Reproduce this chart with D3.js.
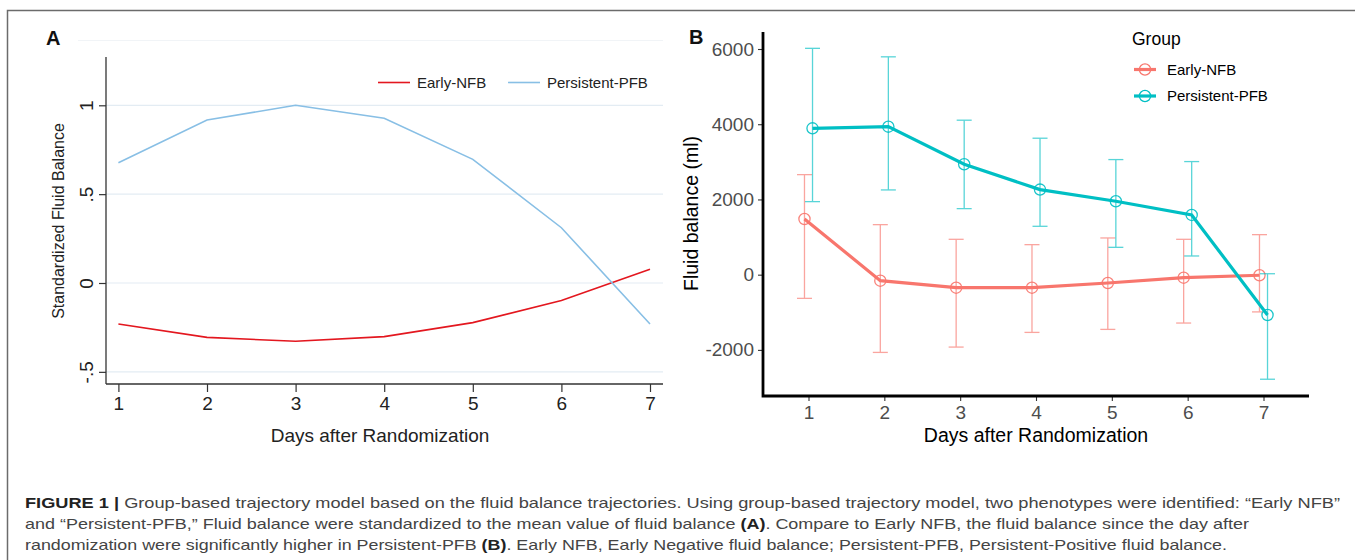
<!DOCTYPE html>
<html><head><meta charset="utf-8">
<script src="https://cdn.jsdelivr.net/npm/d3@7"></script>
<style>
body{margin:0;background:#fff}
svg{display:block}
text{font-family:"Liberation Sans",Arial,Helvetica,sans-serif}
</style>
</head><body>
<svg id="c" width="1355" height="560"></svg>
<script>
// ---------- data ----------
const days = [1, 2, 3, 4, 5, 6, 7];
const groups = ["Early-NFB", "Persistent-PFB"];

// Panel A: standardized fluid balance trajectories
const stdEarly      = [-0.231, -0.306, -0.328, -0.302, -0.223, -0.099, 0.077];
const stdPersistent = [0.677, 0.917, 1.000, 0.927, 0.696, 0.311, -0.231];
const stdTicks      = [-0.5, 0, 0.5, 1];
const stdTickLabels = ["-.5", "0", ".5", "1"];

// Panel B: fluid balance (ml), mean and error bar limits
const fbEarlyMean      = [1481, -160, -346, -346, -222, -80, -15];
const fbEarlyLow       = [-630, -2067, -1925, -1535, -1455, -1286, -990];
const fbEarlyHigh      = [2660, 1330, 940, 798, 976, 940, 1064];
const fbPersistentMean = [3890, 3935, 2936, 2262, 1951, 1588, -1073];
const fbPersistentLow  = [1942, 2253, 1756, 1286, 727, 497, -2780];
const fbPersistentHigh = [6018, 5792, 4107, 3628, 3060, 3007, 25];
const fbTicks          = [-2000, 0, 2000, 4000, 6000];
const fbTickLabels     = ["-2000", "0", "2000", "4000", "6000"];

const captionLines = [
  [["FIGURE 1 | ", true], ["Group-based trajectory model based on the fluid balance trajectories. Using group-based trajectory model, two phenotypes were identified: \u201CEarly NFB\u201D", false]],
  [["and \u201CPersistent-PFB,\u201D Fluid balance were standardized to the mean value of fluid balance ", false], ["(A)", true], [". Compare to Early NFB, the fluid balance since the day after", false]],
  [["randomization were significantly higher in Persistent-PFB ", false], ["(B)", true], [". Early NFB, Early Negative fluid balance; Persistent-PFB, Persistent-Positive fluid balance.", false]]
];

// ---------- drawing ----------
const svg = d3.select("#c");

// figure frame (top and left)
svg.append("path").attr("d", "M7.5,560 V10.5 H1355")
  .attr("fill", "none").attr("stroke", "#6b6b6b").attr("stroke-width", 1.5);

// ===== Panel A =====
const A = {left: 106, right: 663, top: 57, bottom: 384};
const xA = d3.scaleLinear().domain([1, 7]).range([118.4, 650]);
const yA = d3.scaleLinear().domain([0, 1]).range([283, 105.3]);
const redA = "#e3171f", blueA = "#88bfe5";

const gA = svg.append("g");
gA.append("line").attr("x1", 78).attr("x2", A.right).attr("y1", 40.5).attr("y2", 40.5)
  .attr("stroke", "#f1f4f7").attr("stroke-width", 1);

gA.append("text").attr("x", 46).attr("y", 45).attr("font-weight", "bold")
  .attr("font-size", 20).attr("fill", "#111").text("A");

// gridlines
gA.selectAll(".grid").data(stdTicks).join("line")
  .attr("x1", A.left).attr("x2", A.right)
  .attr("y1", d => yA(d)).attr("y2", d => yA(d))
  .attr("stroke", "#e3ecf3").attr("stroke-width", 1.2);

// y axis
const yAxisA = gA.append("g").attr("transform", `translate(${A.left},0)`)
  .call(d3.axisLeft(yA).tickValues(stdTicks).tickSize(7).tickFormat((d, i) => stdTickLabels[i]));
yAxisA.select(".domain").remove();
yAxisA.selectAll(".tick line").attr("stroke", "#333").attr("stroke-width", 1.2);
yAxisA.selectAll(".tick text").attr("x", null).attr("dy", null)
  .attr("transform", "translate(-13,0) rotate(-90)").attr("text-anchor", "middle")
  .attr("font-size", 19).attr("fill", "#222").attr("font-family", "Liberation Sans, Arial, sans-serif");
gA.append("line").attr("x1", A.left).attr("x2", A.left).attr("y1", A.top).attr("y2", A.bottom)
  .attr("stroke", "#333").attr("stroke-width", 1.3);

// x axis
const xAxisA = gA.append("g").attr("transform", `translate(0,${A.bottom})`)
  .call(d3.axisBottom(xA).tickValues(days).tickSize(8).tickFormat(d => String(d)));
xAxisA.select(".domain").remove();
xAxisA.selectAll(".tick line").attr("stroke", "#333").attr("stroke-width", 1.2);
xAxisA.selectAll(".tick text").attr("y", 12).attr("dy", "0.75em")
  .attr("font-size", 19).attr("fill", "#222").attr("font-family", "Liberation Sans, Arial, sans-serif");
gA.append("line").attr("x1", A.left).attr("x2", A.right).attr("y1", A.bottom).attr("y2", A.bottom)
  .attr("stroke", "#333").attr("stroke-width", 1.3);

// titles
gA.append("text").attr("x", 380).attr("y", 442).attr("text-anchor", "middle")
  .attr("font-size", 19).attr("fill", "#222").text("Days after Randomization");
gA.append("text").attr("transform", "translate(63.5,221) rotate(-90)").attr("text-anchor", "middle")
  .attr("font-size", 16).attr("fill", "#222").text("Standardized Fluid Balance");

// lines
const lineA = d3.line().x((d, i) => xA(days[i])).y(d => yA(d));
gA.append("path").datum(stdEarly).attr("d", lineA).attr("fill", "none")
  .attr("stroke", redA).attr("stroke-width", 1.6);
gA.append("path").datum(stdPersistent).attr("d", lineA).attr("fill", "none")
  .attr("stroke", blueA).attr("stroke-width", 1.6);

// legend A
const legA = [{x: 378, color: redA, label: groups[0]}, {x: 508, color: blueA, label: groups[1]}];
legA.forEach(l => {
  gA.append("line").attr("x1", l.x).attr("x2", l.x + 32).attr("y1", 82.5).attr("y2", 82.5)
    .attr("stroke", l.color).attr("stroke-width", 1.6);
  gA.append("text").attr("x", l.x + 39).attr("y", 88).attr("font-size", 15)
    .attr("fill", "#222").text(l.label);
});

// ===== Panel B =====
const B = {left: 763, right: 1309, top: 32, bottom: 396};
const xB = d3.scaleLinear().domain([0.4, 7.6]).range([B.left, B.right]);
const yB = d3.scaleLinear().domain([0, 6000]).range([274.67, 49]);
const colE = "#F8766D", colP = "#00BFC4";
const dodge = 0.053;

const gB = svg.append("g");
gB.append("text").attr("x", 689).attr("y", 44).attr("font-weight", "bold")
  .attr("font-size", 20).attr("fill", "#111").text("B");

const yAxisB = gB.append("g").attr("transform", `translate(${B.left},0)`)
  .call(d3.axisLeft(yB).tickValues(fbTicks).tickSize(5).tickPadding(4).tickFormat((d, i) => fbTickLabels[i]));
yAxisB.select(".domain").remove();
yAxisB.selectAll(".tick line").attr("stroke", "#333").attr("stroke-width", 1.1);
yAxisB.selectAll(".tick text").attr("font-size", 19).attr("fill", "#4d4d4d")
  .attr("font-family", "Liberation Sans, Arial, sans-serif");

const xAxisB = gB.append("g").attr("transform", `translate(0,${B.bottom})`)
  .call(d3.axisBottom(xB).tickValues(days).tickSize(5).tickFormat(d => String(d)));
xAxisB.select(".domain").remove();
xAxisB.selectAll(".tick line").attr("stroke", "#333").attr("stroke-width", 1.1);
xAxisB.selectAll(".tick text").attr("y", 9).attr("dy", "0.75em").attr("font-size", 19).attr("fill", "#4d4d4d")
  .attr("font-family", "Liberation Sans, Arial, sans-serif");

gB.append("path").attr("d", `M${B.left},${B.top} V${B.bottom} H${B.right}`)
  .attr("fill", "none").attr("stroke", "#000").attr("stroke-width", 2.8);

gB.append("text").attr("x", 1036).attr("y", 442).attr("text-anchor", "middle")
  .attr("font-size", 19.5).attr("fill", "#000").text("Days after Randomization");
gB.append("text").attr("transform", "translate(697.5,213.5) rotate(-90)").attr("text-anchor", "middle")
  .attr("font-size", 19.5).attr("fill", "#000").text("Fluid balance (ml)");

function series(mean, low, high, color, off) {
  const pts = days.map((d, i) => ({x: xB(d + off), m: yB(mean[i]), lo: yB(low[i]), hi: yB(high[i])}));
  const g = gB.append("g");
  // error bars
  const eb = g.append("g").attr("stroke", color).attr("stroke-width", 1.3).attr("opacity", 0.65);
  pts.forEach(p => {
    eb.append("line").attr("x1", p.x).attr("x2", p.x).attr("y1", p.lo).attr("y2", p.hi);
    eb.append("line").attr("x1", p.x - 7.5).attr("x2", p.x + 7.5).attr("y1", p.lo).attr("y2", p.lo);
    eb.append("line").attr("x1", p.x - 7.5).attr("x2", p.x + 7.5).attr("y1", p.hi).attr("y2", p.hi);
  });
  g.append("path").datum(pts).attr("d", d3.line().x(p => p.x).y(p => p.m))
    .attr("fill", "none").attr("stroke", color).attr("stroke-width", 3.2);
  g.selectAll("circle").data(pts).join("circle")
    .attr("cx", p => p.x).attr("cy", p => p.m).attr("r", 5.6)
    .attr("fill", "none").attr("stroke", color).attr("stroke-width", 1.3).attr("opacity", 0.9);
}
series(fbEarlyMean, fbEarlyLow, fbEarlyHigh, colE, -dodge);
series(fbPersistentMean, fbPersistentLow, fbPersistentHigh, colP, dodge);

// legend B
gB.append("text").attr("x", 1132).attr("y", 45).attr("font-size", 17.5).attr("fill", "#000").text("Group");
[{y: 69.5, c: colE, label: groups[0]}, {y: 96, c: colP, label: groups[1]}].forEach(l => {
  gB.append("line").attr("x1", 1134).attr("x2", 1156).attr("y1", l.y).attr("y2", l.y)
    .attr("stroke", l.c).attr("stroke-width", 3.2);
  gB.append("circle").attr("cx", 1145).attr("cy", l.y).attr("r", 5.6)
    .attr("fill", "none").attr("stroke", l.c).attr("stroke-width", 1.3);
  gB.append("text").attr("x", 1167).attr("y", l.y + 5.3).attr("font-size", 15)
    .attr("fill", "#000").text(l.label);
});

// ===== caption =====
const capBase = [508, 529, 550];
const capEnds = [1340, 1249, 1227];
captionLines.forEach((segs, i) => {
  const t = svg.append("text").attr("x", 25).attr("y", capBase[i]).attr("font-size", 14.5).attr("fill", "#444");
  segs.forEach(s => {
    t.append("tspan").attr("font-weight", s[1] ? "bold" : null)
      .attr("fill", s[1] ? "#222" : null).text(s[0]);
  });
  t.attr("textLength", capEnds[i] - 25).attr("lengthAdjust", "spacingAndGlyphs");
});
</script>
</body></html>
